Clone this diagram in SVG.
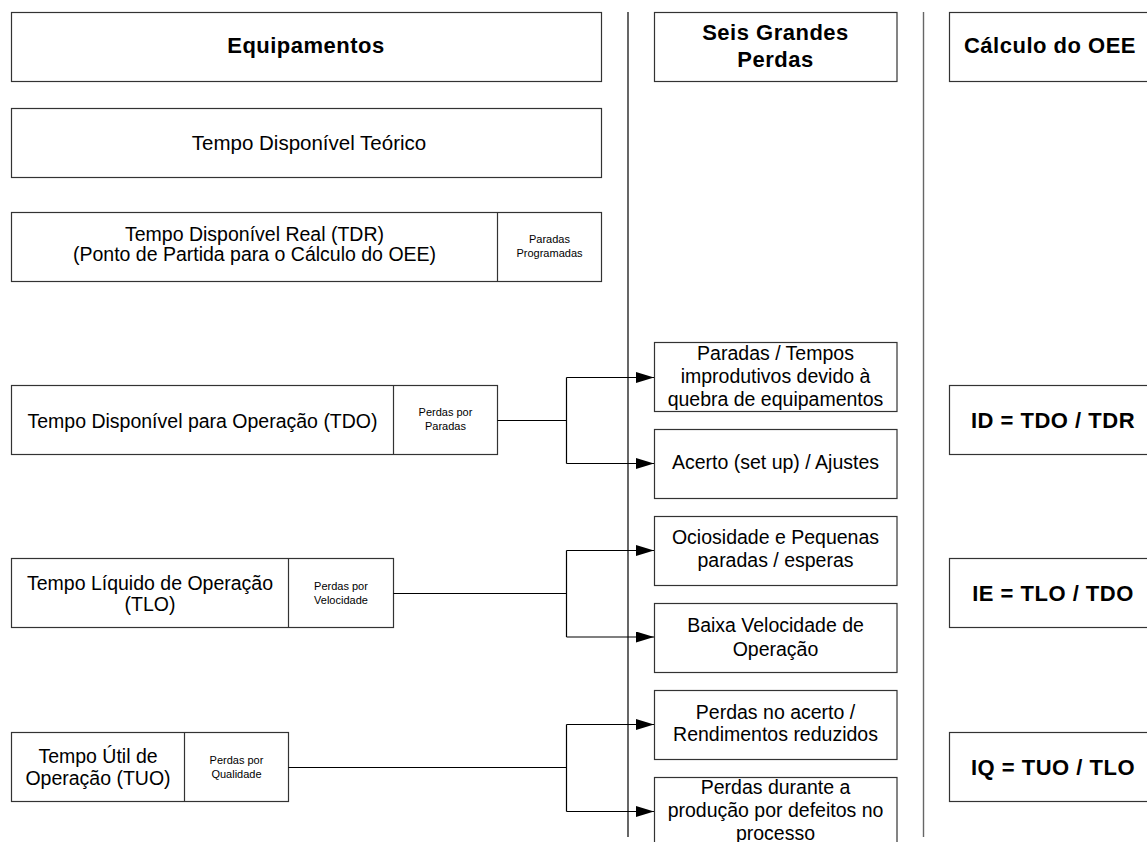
<svg xmlns="http://www.w3.org/2000/svg" width="1147" height="842" viewBox="0 0 1147 842">
  <style>
    .box { fill: #ffffff; stroke: #333333; stroke-width: 1.2; }
    .div { stroke: #333333; stroke-width: 1.2; fill: none; }
    .t { font-family: "Liberation Sans", Arial, sans-serif; font-size: 19.5px; fill: #000000; text-anchor: middle; }
    .b { font-family: "Liberation Sans", Arial, sans-serif; font-size: 22px; font-weight: bold; letter-spacing: 0.5px; fill: #000000; text-anchor: middle; }
    .s { font-family: "Liberation Sans", Arial, sans-serif; font-size: 11px; fill: #000000; text-anchor: middle; }
    .wire { stroke: #000000; stroke-width: 1.2; fill: none; }
    .arrow { stroke: #000000; stroke-width: 1.2; fill: none; marker-end: url(#head); }
  </style>
  <defs>
    <marker id="head" markerUnits="userSpaceOnUse" markerWidth="19" markerHeight="12" refX="18" refY="5.5" orient="auto">
      <path d="M0,0 L18,5.5 L0,11 Z" fill="#000000"/>
    </marker>
  </defs>
  <rect width="1147" height="842" fill="#ffffff"/>

  <!-- column separators -->
  <g id="separators">
    <line x1="628" y1="12" x2="628" y2="837" stroke="#000000" stroke-width="1.2"/>
    <line x1="923.5" y1="12" x2="923.5" y2="837" stroke="#666666" stroke-width="1.4"/>
  </g>

  <!-- column headers -->
  <g id="header-equipamentos">
    <rect class="box" x="11.5" y="12.5" width="590" height="69"/>
    <text class="b" x="306" y="52.5">Equipamentos</text>
  </g>
  <g id="header-perdas">
    <rect class="box" x="654.5" y="12.5" width="242.5" height="69"/>
    <text class="b" x="775.5" y="40">Seis Grandes</text>
    <text class="b" x="775.5" y="66.5">Perdas</text>
  </g>
  <g id="header-oee">
    <rect class="box" x="949.5" y="12.5" width="202" height="69"/>
    <text class="b" x="1050" y="52.5">Cálculo do OEE</text>
  </g>

  <!-- equipment time blocks -->
  <g id="tempo-teorico">
    <rect class="box" x="11.5" y="108.5" width="590" height="69"/>
    <text class="t" x="309" y="149.5" style="font-size:20.5px">Tempo Disponível Teórico</text>
  </g>
  <g id="tempo-tdr">
    <rect class="box" x="11.5" y="212.5" width="590" height="69"/>
    <line class="div" x1="497.5" y1="212.5" x2="497.5" y2="281.5"/>
    <text class="t" x="254.5" y="241">Tempo Disponível Real (TDR)</text>
    <text class="t" x="254.5" y="261">(Ponto de Partida para o Cálculo do OEE)</text>
    <text class="s" x="549.5" y="243">Paradas</text>
    <text class="s" x="549.5" y="257">Programadas</text>
  </g>
  <g id="tempo-tdo">
    <rect class="box" x="11.5" y="385.5" width="486" height="69"/>
    <line class="div" x1="393.5" y1="385.5" x2="393.5" y2="454.5"/>
    <text class="t" x="202.5" y="427.5">Tempo Disponível para Operação (TDO)</text>
    <text class="s" x="445.5" y="416">Perdas por</text>
    <text class="s" x="445.5" y="429.5">Paradas</text>
  </g>
  <g id="tempo-tlo">
    <rect class="box" x="11.5" y="558.5" width="382" height="69"/>
    <line class="div" x1="288.5" y1="558.5" x2="288.5" y2="627.5"/>
    <text class="t" x="150" y="589.5">Tempo Líquido de Operação</text>
    <text class="t" x="150" y="611">(TLO)</text>
    <text class="s" x="341" y="590">Perdas por</text>
    <text class="s" x="341" y="604">Velocidade</text>
  </g>
  <g id="tempo-tuo">
    <rect class="box" x="11.5" y="732.5" width="277" height="69"/>
    <line class="div" x1="184.5" y1="732.5" x2="184.5" y2="801.5"/>
    <text class="t" x="98" y="762.5">Tempo Útil de</text>
    <text class="t" x="98" y="785">Operação (TUO)</text>
    <text class="s" x="236.5" y="764">Perdas por</text>
    <text class="s" x="236.5" y="778">Qualidade</text>
  </g>

  <!-- six big losses -->
  <g id="perda-quebra">
    <rect class="box" x="654.5" y="342.5" width="242.5" height="69"/>
    <text class="t" x="775.5" y="359.5">Paradas / Tempos</text>
    <text class="t" x="775.5" y="382.5">improdutivos devido à</text>
    <text class="t" x="775.5" y="405.5">quebra de equipamentos</text>
  </g>
  <g id="perda-acerto">
    <rect class="box" x="654.5" y="429.5" width="242.5" height="69"/>
    <text class="t" x="775.5" y="468.5">Acerto (set up) / Ajustes</text>
  </g>
  <g id="perda-ociosidade">
    <rect class="box" x="654.5" y="516.5" width="242.5" height="69"/>
    <text class="t" x="775.5" y="543.5">Ociosidade e Pequenas</text>
    <text class="t" x="775.5" y="567">paradas / esperas</text>
  </g>
  <g id="perda-velocidade">
    <rect class="box" x="654.5" y="603.5" width="242.5" height="69"/>
    <text class="t" x="775.5" y="632">Baixa Velocidade de</text>
    <text class="t" x="775.5" y="655.5">Operação</text>
  </g>
  <g id="perda-rendimento">
    <rect class="box" x="654.5" y="690.5" width="242.5" height="69"/>
    <text class="t" x="775.5" y="718.5">Perdas no acerto /</text>
    <text class="t" x="775.5" y="741">Rendimentos reduzidos</text>
  </g>
  <g id="perda-defeitos">
    <rect class="box" x="654.5" y="777.5" width="242.5" height="69"/>
    <text class="t" x="775.5" y="793.5">Perdas durante a</text>
    <text class="t" x="775.5" y="816.5">produção por defeitos no</text>
    <text class="t" x="775.5" y="840">processo</text>
  </g>

  <!-- OEE indices -->
  <g id="indice-id">
    <rect class="box" x="949.5" y="385.5" width="202" height="69"/>
    <text class="b" x="1053" y="427.5">ID = TDO / TDR</text>
  </g>
  <g id="indice-ie">
    <rect class="box" x="949.5" y="558.5" width="202" height="69"/>
    <text class="b" x="1053" y="600.5">IE = TLO / TDO</text>
  </g>
  <g id="indice-iq">
    <rect class="box" x="949.5" y="732.5" width="202" height="69"/>
    <text class="b" x="1053" y="775">IQ = TUO / TLO</text>
  </g>

  <!-- connectors from loss cells to the six losses -->
  <g id="connectors">
    <path class="wire" d="M497.5,420.5 H566.5 M566.5,377.5 V463.5"/>
    <path class="arrow" d="M566.5,377.5 H654"/>
    <path class="arrow" d="M566.5,463.5 H654"/>
    <path class="wire" d="M393.5,593.5 H566.5 M566.5,550.5 V637"/>
    <path class="arrow" d="M566.5,550.5 H654"/>
    <path class="arrow" d="M566.5,637 H654"/>
    <path class="wire" d="M288.5,767.5 H566.5 M566.5,724.5 V811.5"/>
    <path class="arrow" d="M566.5,724.5 H654"/>
    <path class="arrow" d="M566.5,811.5 H654"/>
  </g>
</svg>
